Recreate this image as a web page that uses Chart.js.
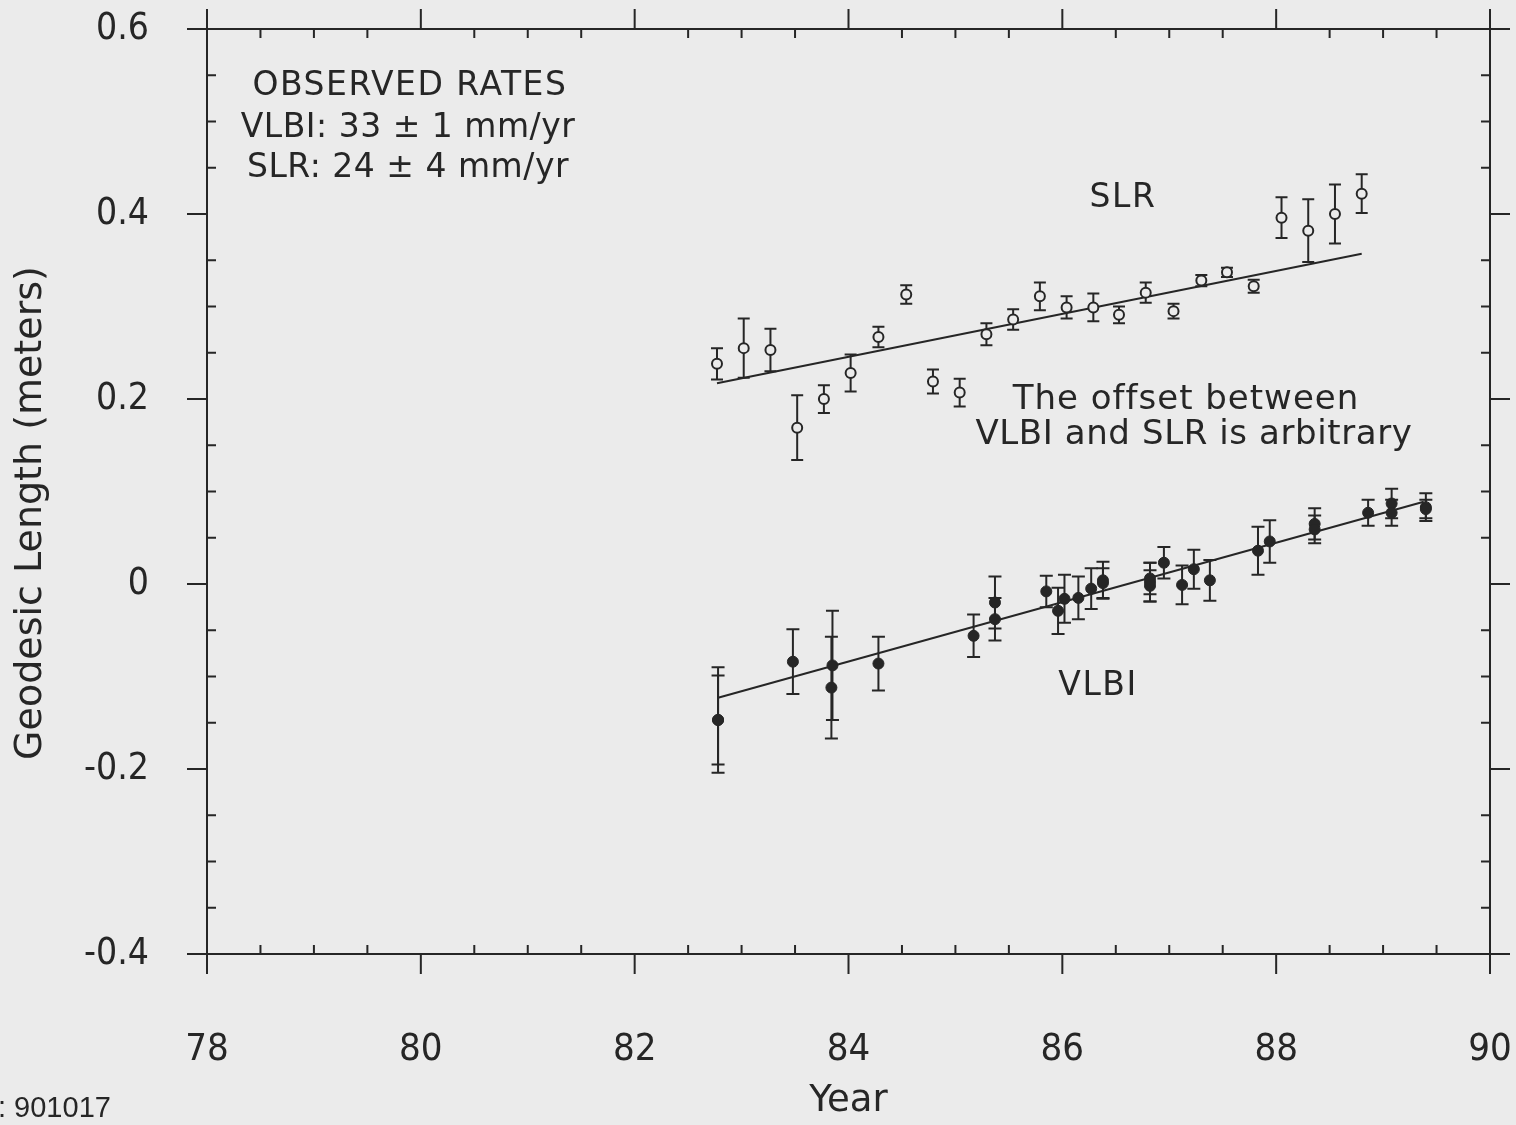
<!DOCTYPE html>
<html><head><meta charset="utf-8">
<script src="https://cdn.jsdelivr.net/npm/chart.js@4.4.1/dist/chart.umd.min.js"></script>
<style>html,body{margin:0;padding:0;background:#ebebeb;}canvas{display:block}</style>
</head><body>
<canvas id="c" width="1516" height="1125"></canvas>
<script>
// ---- data ----
const xTickLabels = ['78','80','82','84','86','88','90'];
const yTickLabels = ['-0.4','-0.2','0','0.2','0.4','0.6'];

const slrYear   = [82.77,83.02,83.27,83.52,83.77,84.02,84.28,84.54,84.79,85.04,85.29,85.54,85.79,86.04,86.29,86.53,86.78,87.04,87.30,87.54,87.79,88.05,88.30,88.55,88.80];
const slrLength = [0.238,0.255,0.253,0.169,0.200,0.228,0.267,0.313,0.219,0.207,0.270,0.286,0.311,0.299,0.299,0.291,0.315,0.295,0.328,0.337,0.322,0.396,0.382,0.400,0.422];
const slrError  = [0.017,0.032,0.023,0.035,0.015,0.020,0.011,0.010,0.013,0.015,0.012,0.011,0.015,0.012,0.015,0.009,0.011,0.008,0.006,0.005,0.007,0.022,0.034,0.032,0.021];

const vlbiYear   = [82.78,82.78,83.48,83.85,83.84,84.28,85.17,85.37,85.37,85.85,85.96,86.02,86.15,86.27,86.38,86.38,86.82,86.82,86.82,86.95,87.12,87.23,87.38,87.83,87.94,88.36,88.36,88.86,89.08,89.08,89.40,89.40];
const vlbiLength = [-0.147,-0.147,-0.084,-0.088,-0.112,-0.086,-0.056,-0.020,-0.038,-0.008,-0.029,-0.016,-0.015,-0.005,0.001,0.004,0.006,-0.002,0.002,0.023,-0.001,0.016,0.004,0.036,0.046,0.065,0.059,0.077,0.087,0.077,0.083,0.081];
const vlbiError  = [0.057,0.048,0.035,0.059,0.055,0.029,0.023,0.028,0.023,0.017,0.025,0.026,0.023,0.022,0.016,0.020,0.017,0.017,0.021,0.017,0.021,0.021,0.022,0.026,0.023,0.017,0.015,0.014,0.016,0.014,0.015,0.010];

const slrFitYear    = [82.77, 88.80];
const slrFitLength  = [0.217, 0.357];
const vlbiFitYear   = [82.78, 89.38];
const vlbiFitLength = [-0.123, 0.089];

// ---- styling ----
const BG = '#ebebeb', INK = '#262626';
const NUM_FONT = "'Liberation Sans Narrow','DejaVu Sans Condensed','Liberation Sans',sans-serif";
const TXT_FONT = "'DejaVu Sans','Liberation Sans',sans-serif";

const toPts = (xs, ys) => xs.map((v, i) => ({x: v, y: ys[i]}));

const paper = {
  id: 'paper',
  beforeDraw(c) {
    const ctx = c.ctx; ctx.save(); ctx.fillStyle = BG; ctx.fillRect(0, 0, c.width, c.height); ctx.restore();
  }
};

const errorBars = {
  id: 'errorBars',
  beforeDatasetsDraw(c) {
    const {ctx, scales: {x, y}} = c;
    ctx.save(); ctx.strokeStyle = INK; ctx.lineWidth = 2;
    const draw = (xs, vs, es, cap) => {
      for (let i = 0; i < xs.length; i++) {
        const px = x.getPixelForValue(xs[i]);
        const t = y.getPixelForValue(vs[i] + es[i]);
        const b = y.getPixelForValue(vs[i] - es[i]);
        ctx.beginPath();
        ctx.moveTo(px, t); ctx.lineTo(px, b);
        ctx.moveTo(px - cap, t); ctx.lineTo(px + cap, t);
        ctx.moveTo(px - cap, b); ctx.lineTo(px + cap, b);
        ctx.stroke();
      }
    };
    draw(slrYear, slrLength, slrError, 6);
    draw(vlbiYear, vlbiLength, vlbiError, 6.5);
    ctx.restore();
  }
};

const frame = {
  id: 'frame',
  afterDraw(c) {
    const {ctx, chartArea: a, scales: {x, y}} = c;
    ctx.save(); ctx.strokeStyle = INK; ctx.lineWidth = 2;
    ctx.strokeRect(a.left, a.top, a.right - a.left, a.bottom - a.top);
    const MAJ = 20, MIN = 9;
    const nx = Math.round((x.max - x.min) / 0.5);
    for (let k = 0; k <= nx; k++) {
      const v = x.min + k * 0.5;
      const px = x.getPixelForValue(v);
      const major = k % 4 === 0;
      ctx.beginPath();
      if (major) {
        ctx.moveTo(px, a.bottom); ctx.lineTo(px, a.bottom + MAJ);
        ctx.moveTo(px, a.top); ctx.lineTo(px, a.top - MAJ);
      } else {
        ctx.moveTo(px, a.bottom); ctx.lineTo(px, a.bottom - MIN);
        ctx.moveTo(px, a.top); ctx.lineTo(px, a.top + MIN);
      }
      ctx.stroke();
    }
    const ny = Math.round((y.max - y.min) / 0.05);
    for (let k = 0; k <= ny; k++) {
      const v = y.min + k * 0.05;
      const py = y.getPixelForValue(v);
      const major = k % 4 === 0;
      ctx.beginPath();
      if (major) {
        ctx.moveTo(a.left, py); ctx.lineTo(a.left - MAJ, py);
        ctx.moveTo(a.right, py); ctx.lineTo(a.right + MAJ, py);
      } else {
        ctx.moveTo(a.left, py); ctx.lineTo(a.left + MIN, py);
        ctx.moveTo(a.right, py); ctx.lineTo(a.right - MIN, py);
      }
      ctx.stroke();
    }
    ctx.restore();
  }
};

const notes = {
  id: 'notes',
  afterDraw(c) {
    const ctx = c.ctx;
    ctx.save();
    ctx.fillStyle = INK;
    ctx.textBaseline = 'alphabetic';
    const put = (t, x, y, size, sp, align) => {
      ctx.font = size + 'px ' + TXT_FONT;
      ctx.letterSpacing = sp + 'px';
      ctx.textAlign = align || 'center';
      ctx.fillText(t, x, y);
    };
    put('OBSERVED RATES', 410, 95, 33, 1.5);
    put('VLBI: 33 \u00b1 1 mm/yr', 408, 137, 33, 0.5);
    put('SLR: 24 \u00b1 4 mm/yr', 408, 177, 33, 0.5);
    put('SLR', 1123, 207, 33, 1.5);
    put('The offset between', 1186, 409, 34, 1.0);
    put('VLBI and SLR is arbitrary', 1194, 444, 34, 0.6);
    put('VLBI', 1098, 695, 33, 1.5);
    // y-axis title
    ctx.save();
    ctx.translate(31, 513);
    ctx.rotate(-Math.PI / 2);
    ctx.font = '38px ' + TXT_FONT;
    ctx.letterSpacing = '0px';
    ctx.textAlign = 'center';
    ctx.textBaseline = 'middle';
    ctx.fillText('Geodesic Length (meters)', 0, 0);
    ctx.restore();
    ctx.letterSpacing = '0px';
    ctx.font = '29px ' + "'Liberation Sans',sans-serif";
    ctx.textAlign = 'left';
    ctx.fillText(': 901017', -2, 1117);
    ctx.restore();
  }
};

new Chart(document.getElementById('c'), {
  type: 'scatter',
  data: {
    datasets: [
      {label: 'SLR', data: toPts(slrYear, slrLength), pointStyle: 'circle', pointRadius: 5, pointBorderWidth: 2, borderColor: INK, backgroundColor: BG, order: 1},
      {label: 'VLBI', data: toPts(vlbiYear, vlbiLength), pointStyle: 'circle', pointRadius: 5.5, pointBorderWidth: 1, borderColor: INK, backgroundColor: INK, order: 1},
      {label: 'SLR fit', data: toPts(slrFitYear, slrFitLength), showLine: true, pointRadius: 0, borderColor: INK, borderWidth: 2, order: 2},
      {label: 'VLBI fit', data: toPts(vlbiFitYear, vlbiFitLength), showLine: true, pointRadius: 0, borderColor: INK, borderWidth: 2, order: 2}
    ]
  },
  options: {
    responsive: false, animation: false, devicePixelRatio: 1, events: [],
    layout: {autoPadding: false, padding: {top: 29, right: 26, left: 0, bottom: 0}},
    plugins: {legend: {display: false}, tooltip: {enabled: false}},
    scales: {
      x: {
        type: 'linear', min: 78, max: 90,
        afterFit(s) { s.height = 171; },
        grid: {display: false, drawTicks: true, tickLength: 73}, border: {display: false},
        ticks: {stepSize: 2, padding: 0, color: INK, autoSkip: false, maxRotation: 0,
                font: {family: NUM_FONT, size: 38}, callback: (v, i) => xTickLabels[i]},
        title: {display: true, text: 'Year', color: INK, font: {family: TXT_FONT, size: 37}, padding: {top: 0, bottom: 1}}
      },
      y: {
        type: 'linear', min: -0.4, max: 0.6,
        afterFit(s) { s.width = 207; },
        grid: {display: false, drawTicks: true, tickLength: 58}, border: {display: false},
        ticks: {stepSize: 0.2, padding: 0, color: INK, autoSkip: false,
                font: {family: NUM_FONT, size: 37}, callback: (v, i) => yTickLabels[i]},
        title: {display: false}
      }
    }
  },
  plugins: [paper, errorBars, frame, notes]
});
</script>
</body></html>
